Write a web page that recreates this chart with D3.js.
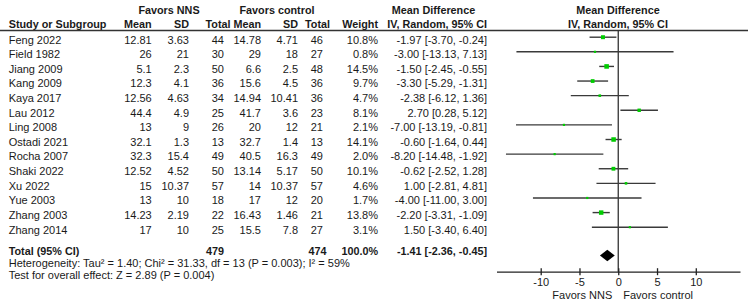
<!DOCTYPE html>
<html>
<head>
<meta charset="utf-8">
<script src="https://cdn.jsdelivr.net/npm/d3@7"></script>
<style>
  body { margin: 0; background: #fff; }
  text { font-family: "Liberation Sans", Arial, sans-serif; font-size: 11px; fill: #1a1a1a; }
  .b text, text.b { font-weight: bold; font-size: 10.8px; }
</style>
</head>
<body>
<div id="forest"></div>
<script>
const studies = ["Feng 2022", "Field 1982", "Jiang 2009", "Kang 2009", "Kaya 2017", "Lau 2012", "Ling 2008",
  "Ostadi 2021", "Rocha 2007", "Shaki 2022", "Xu 2022", "Yue 2003", "Zhang 2003", "Zhang 2014"];
const nnsMean = [12.81, 26, 5.1, 12.3, 12.56, 44.4, 13, 32.1, 32.3, 12.52, 15, 13, 14.23, 17];
const nnsSD = [3.63, 21, 2.3, 4.1, 4.63, 4.9, 9, 1.3, 15.4, 4.52, 10.37, 10, 2.19, 10];
const nnsN = [44, 30, 50, 36, 34, 25, 26, 13, 49, 50, 57, 18, 22, 25];
const ctrlMean = [14.78, 29, 6.6, 15.6, 14.94, 41.7, 20, 32.7, 40.5, 13.14, 14, 17, 16.43, 15.5];
const ctrlSD = [4.71, 18, 2.5, 4.5, 10.41, 3.6, 12, 1.4, 16.3, 5.17, 10.37, 12, 1.46, 7.8];
const ctrlN = [46, 27, 48, 36, 36, 23, 21, 13, 49, 50, 57, 20, 21, 27];
const weight = [10.8, 0.8, 14.5, 9.7, 4.7, 8.1, 2.1, 14.1, 2.0, 10.1, 4.6, 1.7, 13.8, 3.1];
const md = [-1.97, -3.00, -1.50, -3.30, -2.38, 2.70, -7.00, -0.60, -8.20, -0.62, 1.00, -4.00, -2.20, 1.50];
const ciLow = [-3.70, -13.13, -2.45, -5.29, -6.12, 0.28, -13.19, -1.64, -14.48, -2.52, -2.81, -11.00, -3.31, -3.40];
const ciHigh = [-0.24, 7.13, -0.55, -1.31, 1.36, 5.12, -0.81, 0.44, -1.92, 1.28, 4.81, 3.00, -1.09, 6.40];

const total = { nns: 479, ctrl: 474, weight: 100.0, md: -1.41, lo: -2.36, hi: -0.45 };
const tickValues = [-10, -5, 0, 5, 10];
const heterogeneity = "Heterogeneity: Tau\u00b2 = 1.40; Chi\u00b2 = 31.33, df = 13 (P = 0.003); I\u00b2 = 59%";
const overallTest = "Test for overall effect: Z = 2.89 (P = 0.004)";

const width = 750, height = 308;
// plain hyphen as in the original table
const f2 = v => v.toFixed(2);

const svg = d3.select("#forest")
    .append("svg")
    .attr("width", width)
    .attr("height", height);

const x = d3.scaleLinear().domain([-15.7, 15.7]).range([496.5, 740]);
const y = d3.scalePoint().domain(studies).range([37.2, 227.2]);
const axisY = 271.7, totalY = 255.5;

const rows = studies.map((s, i) => ({
  study: s, m1: nnsMean[i], sd1: nnsSD[i], n1: nnsN[i],
  m2: ctrlMean[i], sd2: ctrlSD[i], n2: ctrlN[i],
  w: weight[i], md: md[i], lo: ciLow[i], hi: ciHigh[i]
}));

// header
const head = svg.append("g").attr("class", "b");
head.append("text").attr("x", 169).attr("y", 14).attr("text-anchor", "middle").text("Favors NNS");
head.append("text").attr("x", 277).attr("y", 14).attr("text-anchor", "middle").text("Favors control");
head.append("text").attr("x", 433.5).attr("y", 14).attr("text-anchor", "middle").text("Mean Difference");
head.append("text").attr("x", 618).attr("y", 14).attr("text-anchor", "middle").text("Mean Difference");
head.append("text").attr("x", 8.7).attr("y", 28.2).text("Study or Subgroup");
[["Mean", 151.7], ["SD", 189], ["Total", 230.5], ["Mean", 261], ["SD", 298], ["Total", 330],
 ["Weight", 378], ["IV, Random, 95% CI", 487]].forEach(([t, px]) => {
  head.append("text").attr("x", px).attr("y", 28.2).attr("text-anchor", "end").text(t);
});
head.append("text").attr("x", 618).attr("y", 28.2).attr("text-anchor", "middle").text("IV, Random, 95% CI");

svg.append("line")
    .attr("x1", 0).attr("x2", 748)
    .attr("y1", 30.5).attr("y2", 30.5)
    .attr("stroke", "#333").attr("stroke-width", 1.3);

// table rows
const cols = [
  { x: 151.7, v: d => d.m1 }, { x: 189, v: d => d.sd1 }, { x: 224, v: d => d.n1 },
  { x: 261, v: d => d.m2 }, { x: 298, v: d => d.sd2 }, { x: 323, v: d => d.n2 },
  { x: 378, v: d => d.w.toFixed(1) + "%" },
  { x: 487, v: d => `${f2(d.md)} [${f2(d.lo)}, ${f2(d.hi)}]` }
];

const row = svg.append("g").selectAll("g")
    .data(rows)
    .enter().append("g")
    .attr("transform", d => `translate(0,${y(d.study) + 6.3})`);

row.append("text").attr("x", 8.7).text(d => d.study);
cols.forEach(c => {
  row.append("text").attr("x", c.x).attr("text-anchor", "end").text(c.v);
});

// total row
const tot = svg.append("g").attr("class", "b").attr("transform", "translate(0,254.7)");
tot.append("text").attr("x", 8.7).text("Total (95% CI)");
tot.append("text").attr("x", 224).attr("text-anchor", "end").text(total.nns);
tot.append("text").attr("x", 326.5).attr("text-anchor", "end").text(total.ctrl);
tot.append("text").attr("x", 378).attr("text-anchor", "end").text(total.weight.toFixed(1) + "%");
tot.append("text").attr("x", 487).attr("text-anchor", "end")
    .text(`${f2(total.md)} [${f2(total.lo)}, ${f2(total.hi)}]`);

svg.append("text").attr("x", 8.7).attr("y", 266.8).text(heterogeneity);
svg.append("text").attr("x", 8.7).attr("y", 278.5).text(overallTest);

// forest plot
svg.append("line")
    .attr("x1", x(0)).attr("x2", x(0))
    .attr("y1", 30).attr("y2", axisY)
    .attr("stroke", "#333").attr("stroke-width", 1.3);

const plot = svg.append("g");
plot.selectAll("line.ci")
    .data(rows)
    .enter().append("line")
    .attr("class", "ci")
    .attr("x1", d => x(d.lo)).attr("x2", d => x(d.hi))
    .attr("y1", d => y(d.study)).attr("y2", d => y(d.study))
    .attr("stroke", "#3a3a3a").attr("stroke-width", 1.4);

const side = d => Math.max(2.2, 1.2 * Math.sqrt(d.w));
plot.selectAll("rect")
    .data(rows)
    .enter().append("rect")
    .attr("x", d => x(d.md) - side(d) / 2)
    .attr("y", d => y(d.study) - side(d) / 2)
    .attr("width", side).attr("height", side)
    .attr("fill", "#00cc00");

svg.append("path")
    .attr("d", `M${x(total.lo)},${totalY}L${x(total.md)},${totalY - 5.8}L${x(total.hi)},${totalY}L${x(total.md)},${totalY + 5.8}Z`)
    .attr("fill", "#000");

// axis
const axis = svg.append("g")
    .attr("transform", `translate(0,${axisY})`)
    .call(d3.axisBottom(x).tickValues(tickValues).tickFormat(d => String(d))
      .tickSize(3.5).tickPadding(3).tickSizeOuter(0));
axis.select(".domain").attr("stroke", "#222").attr("stroke-width", 1.3);
axis.selectAll(".tick line").attr("y1", -3.5).attr("stroke", "#222").attr("stroke-width", 1.3);
axis.selectAll(".tick text")
    .style("font-family", "'Liberation Sans', Arial, sans-serif")
    .style("font-size", "11px").attr("fill", "#1a1a1a");

svg.append("text").attr("x", x(0) - 6).attr("y", 299).attr("text-anchor", "end").text("Favors NNS");
svg.append("text").attr("x", x(0) + 5).attr("y", 299).text("Favors control");
</script>
</body>
</html>
